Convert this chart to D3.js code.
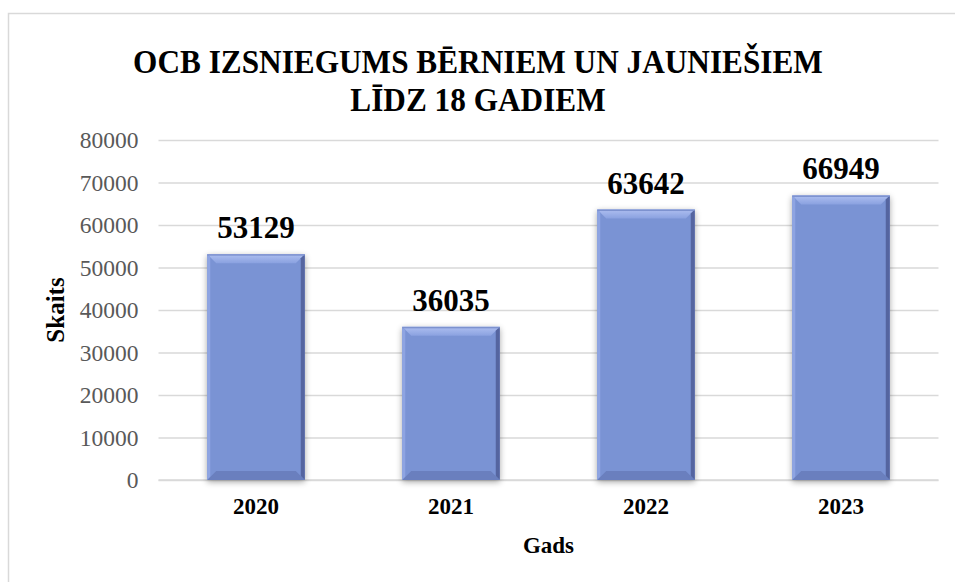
<!DOCTYPE html>
<meta charset="utf-8">
<style>
    body { margin: 0; background: #fff; }
    svg text { font-family: "Liberation Serif", "Times New Roman", serif; }
</style>
<body>
<svg></svg>
<script src="https://d3js.org/d3.v7.min.js"></script>
<script>
    // chart data
    let years = ["2020", "2021", "2022", "2023"];
    let counts = [53129, 36035, 63642, 66949];
    let yTicks = [0, 10000, 20000, 30000, 40000, 50000, 60000, 70000, 80000];
    let titleLines = ["OCB IZSNIEGUMS BĒRNIEM UN JAUNIEŠIEM", "LĪDZ 18 GADIEM"];

    let width = 955,
        height = 582;
    let serif = '"Liberation Serif", "Times New Roman", serif';

    let svg = d3.select("svg")
        .attr("width", width)
        .attr("height", height);

    // outer frame (runs off right/bottom edge)
    svg.append("rect")
        .attr("x", 8.5).attr("y", 13.5)
        .attr("width", 960).attr("height", 600)
        .attr("fill", "none")
        .attr("stroke", "#d9d9d9")
        .attr("stroke-width", 1.5);

    let plot = {left: 158.5, right: 938.5, top: 140, bottom: 480};

    let x = d3.scaleBand()
        .domain(years)
        .range([plot.left, plot.right])
        .paddingInner(0.5)
        .paddingOuter(0.25);

    let y = d3.scaleLinear()
        .domain([0, 80000])
        .range([plot.bottom, plot.top]);

    let defs = svg.append("defs");
    let sh = defs.append("filter").attr("id", "shadow")
        .attr("x", "-20%").attr("y", "-10%").attr("width", "140%").attr("height", "120%");
    sh.append("feGaussianBlur").attr("in", "SourceAlpha").attr("stdDeviation", 3);
    sh.append("feOffset").attr("dx", 0).attr("dy", 2).attr("result", "b");
    sh.append("feComponentTransfer").append("feFuncA").attr("type", "linear").attr("slope", 0.35);
    let m = sh.append("feMerge");
    m.append("feMergeNode");
    m.append("feMergeNode").attr("in", "SourceGraphic");

    let topGrad = defs.append("linearGradient").attr("id", "topGrad")
        .attr("x1", 0).attr("y1", 0).attr("x2", 0).attr("y2", 1);
    topGrad.append("stop").attr("offset", "0%").attr("stop-color", "#aebff0");
    topGrad.append("stop").attr("offset", "100%").attr("stop-color", "#8aa1e0");

    // gridlines + y tick labels
    svg.append("g")
        .attr("transform", "translate(" + plot.left + ",0)")
        .call(d3.axisLeft(y).tickValues(yTicks).tickSize(-(plot.right - plot.left)).tickFormat(d => d).tickPadding(20))
        .call(g => g.select(".domain").remove())
        .call(g => g.selectAll(".tick line").attr("stroke", "#d9d9d9").attr("stroke-width", 1.3))
        .call(g => g.selectAll(".tick text")
            .attr("fill", "#595959")
            .style("font-family", serif)
            .style("font-size", "23.5px")
            .attr("x", -20));

    // axis baseline
    svg.append("line")
        .attr("x1", plot.left).attr("x2", plot.right)
        .attr("y1", y(0)).attr("y2", y(0))
        .attr("stroke", "#d9d9d9").attr("stroke-width", 1.5);

    // bars with a bevel look
    let bars = svg.append("g").selectAll(".bar")
        .data(years.map((d, i) => ({year: d, value: counts[i]})))
        .enter().append("g")
        .attr("class", "bar")
        .attr("filter", "url(#shadow)");

    let bv = 9;
    bars.append("rect")
        .attr("x", d => x(d.year))
        .attr("y", d => y(d.value))
        .attr("width", x.bandwidth())
        .attr("height", d => y(0) - y(d.value))
        .attr("fill", "#7a93d4");

    function poly(pts) { return pts.map(p => p.join(",")).join(" "); }

    // top bevel
    bars.append("polygon")
        .attr("points", d => {
            let x0 = x(d.year), x1 = x0 + x.bandwidth(), t = y(d.value);
            return poly([[x0, t], [x1, t], [x1 - bv, t + bv], [x0 + bv, t + bv]]);
        })
        .attr("fill", "url(#topGrad)");
    // left bevel
    bars.append("polygon")
        .attr("points", d => {
            let x0 = x(d.year), t = y(d.value), b = y(0);
            return poly([[x0, t], [x0 + 3, t + 3], [x0 + 3, b - 3], [x0, b]]);
        })
        .attr("fill", "#8ea4e2");
    // right bevel
    bars.append("polygon")
        .attr("points", d => {
            let x1 = x(d.year) + x.bandwidth(), t = y(d.value), b = y(0);
            return poly([[x1, t], [x1 - 4, t + 4], [x1 - 4, b - 4], [x1, b]]);
        })
        .attr("fill", "#5565a0");
    // bottom bevel
    bars.append("polygon")
        .attr("points", d => {
            let x0 = x(d.year), x1 = x0 + x.bandwidth(), b = y(0);
            return poly([[x0, b], [x1, b], [x1 - bv, b - bv], [x0 + bv, b - bv]]);
        })
        .attr("fill", "#6a7fbe");
    // thin top edge
    bars.append("rect")
        .attr("x", d => x(d.year))
        .attr("y", d => y(d.value))
        .attr("width", x.bandwidth())
        .attr("height", 1.5)
        .attr("fill", "#7d92cf");

    // value labels
    svg.append("g").selectAll("text")
        .data(years.map((d, i) => ({year: d, value: counts[i]})))
        .enter().append("text")
        .attr("x", d => x(d.year) + x.bandwidth() / 2)
        .attr("y", d => y(d.value) - 16)
        .attr("text-anchor", "middle")
        .style("font-family", serif)
        .style("font-size", "31px")
        .style("font-weight", "bold")
        .text(d => d.value);

    // x axis labels
    svg.append("g")
        .attr("transform", "translate(0," + plot.bottom + ")")
        .call(d3.axisBottom(x).tickSize(0).tickPadding(18))
        .call(g => g.select(".domain").remove())
        .call(g => g.selectAll(".tick text")
            .attr("fill", "#000")
            .style("font-family", serif)
            .style("font-size", "23px")
            .style("font-weight", "bold"));

    // title (slightly condensed like the original)
    svg.append("g")
        .attr("transform", "translate(478,0) scale(0.92,1)")
        .selectAll("text")
        .data(titleLines)
        .enter().append("text")
        .attr("x", 0)
        .attr("y", (d, i) => 73 + i * 38)
        .attr("text-anchor", "middle")
        .style("font-family", serif)
        .style("font-size", "34px")
        .style("font-weight", "bold")
        .text(d => d);

    svg.append("text")
        .attr("x", (plot.left + plot.right) / 2)
        .attr("y", 553)
        .attr("text-anchor", "middle")
        .style("font-family", serif)
        .style("font-size", "23px")
        .style("font-weight", "bold")
        .text("Gads");

    svg.append("text")
        .attr("transform", "translate(64," + (plot.top + plot.bottom) / 2 + ") rotate(-90)")
        .attr("text-anchor", "middle")
        .style("font-family", serif)
        .style("font-size", "25px")
        .style("font-weight", "bold")
        .text("Skaits");
</script>
</body>
